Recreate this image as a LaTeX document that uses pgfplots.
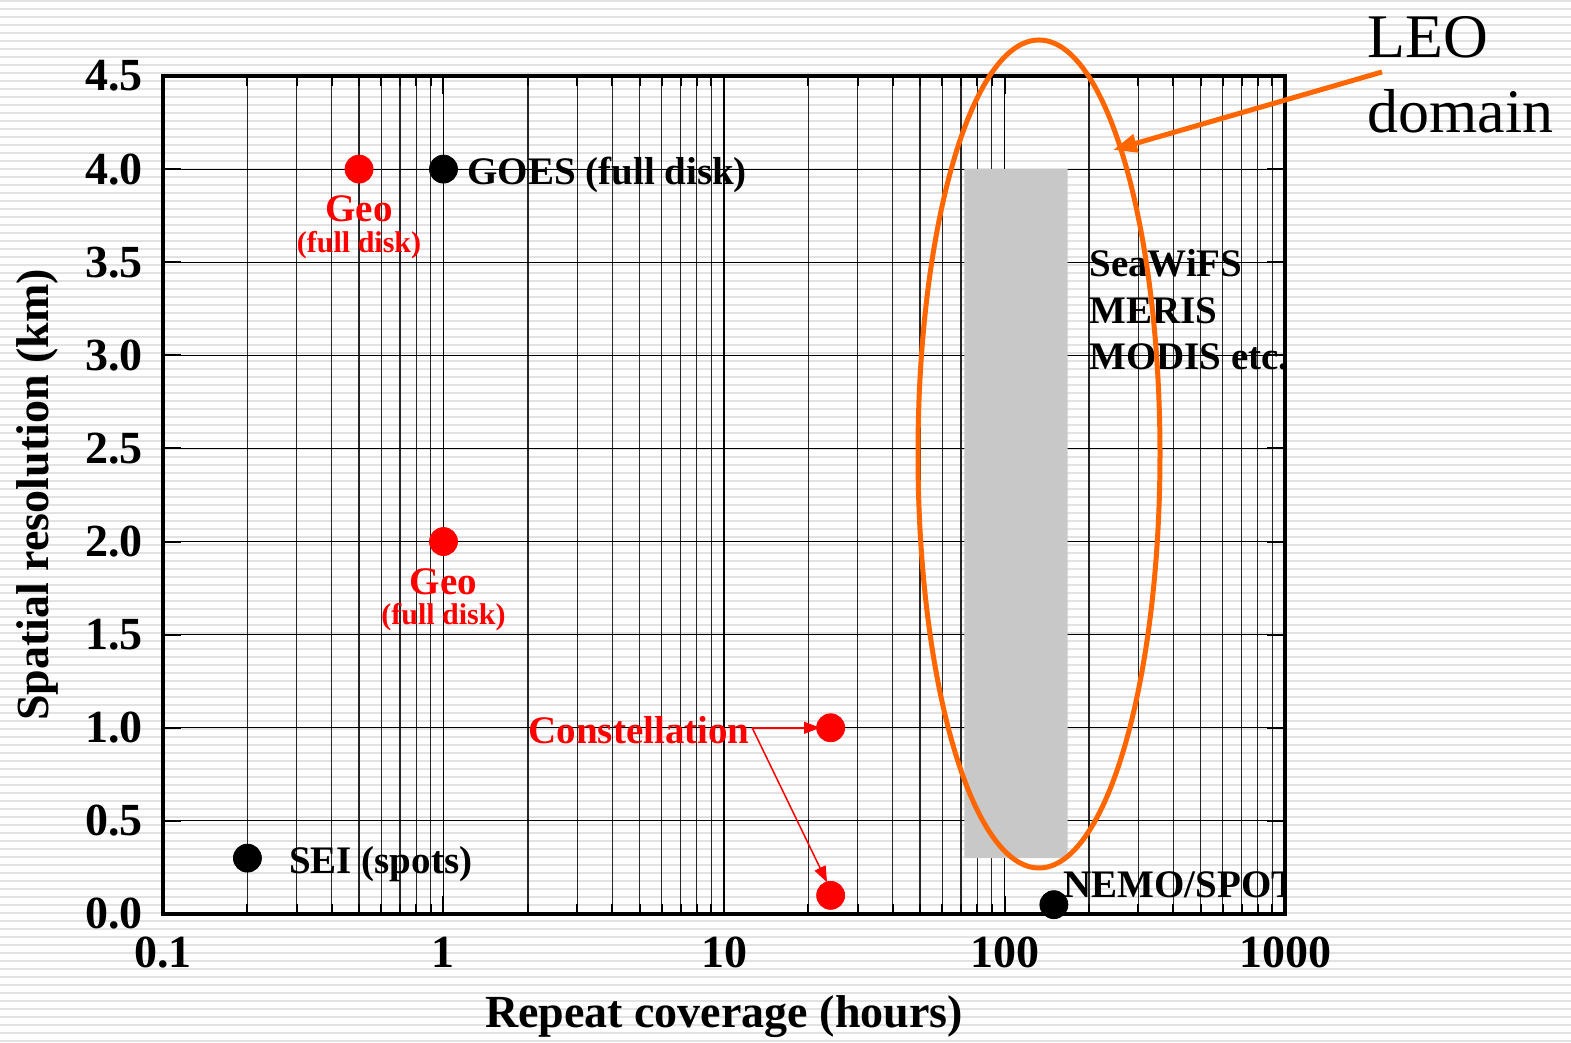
\documentclass[border=0pt]{standalone}
\usepackage{pgfplots}
\pgfplotsset{compat=1.18}
\usepackage{fontspec}
\setmainfont{Liberation Serif}
\usetikzlibrary{arrows.meta}
\definecolor{bargray}{RGB}{200,200,200}
\definecolor{leo}{RGB}{255,102,0}
\definecolor{stripe}{RGB}{226,226,226}
\definecolor{myred}{RGB}{255,0,0}
\newcommand{\tickf}{\fontsize{23}{27}\selectfont\bfseries}
\newcommand{\axlab}{\fontsize{23}{27}\selectfont\bfseries}
\newcommand{\ann}{\fontsize{19.5}{23}\selectfont\bfseries}
\newcommand{\anns}{\fontsize{15}{18}\selectfont\bfseries}
\newcommand{\leof}{\fontsize{31}{36}\selectfont}
\begin{document}
\begin{tikzpicture}[x=0.5pt,y=0.5pt]
\useasboundingbox (0,0) rectangle (1571,1043);
\fill[white] (0,0) rectangle (1571,1043);
\foreach \i in {0,...,130}{\fill[stripe] (0,{1043-8*\i}) rectangle (1571,{1043-8*\i-2.5});}
\begin{axis}[
  at={(81.5pt,64.5pt)}, anchor=south west,
  scale only axis, width=561pt, height=419pt,
  xmode=log, xmin=0.1, xmax=1000, ymin=0, ymax=4.5,
  xtick={0.1,1,10,100,1000}, xticklabels={0.1,1,10,100,1000},
  ytick={0,0.5,1,1.5,2,2.5,3,3.5,4,4.5},
  yticklabels={0.0,0.5,1.0,1.5,2.0,2.5,3.0,3.5,4.0,4.5},
  minor y tick num=0,
  grid=both,
  major grid style={black, line width=0.6pt},
  minor grid style={black!85, line width=0.6pt},
  axis line style={line width=2pt},
  tick align=inside,
  major tick length=9pt, minor tick length=5pt,
  every tick/.style={black, line width=1pt},
  xticklabel style={font=\tickf, anchor=north, inner sep=0pt, yshift=-11.5pt},
  yticklabel style={font=\tickf, anchor=east, inner sep=0pt, xshift=-10pt},
  xlabel={Repeat coverage (hours)}, ylabel={Spatial resolution (km)},
  every axis x label/.style={at={(rel axis cs:0.5,0)}, yshift=-51.5pt, anchor=center, font=\axlab},
  every axis y label/.style={at={(rel axis cs:0,0.5)}, xshift=-63pt, rotate=90, anchor=center, font=\axlab},
  clip=false,
]
\addplot[draw=none, fill=bargray] coordinates {(72,0.3) (168,0.3) (168,4) (72,4) (72,0.3)};
\addplot[only marks, mark=*, mark size=7pt, myred] coordinates {(0.5,4) (1,2) (24,1) (24,0.1)};
\addplot[only marks, mark=*, mark size=7pt, black] coordinates {(1,4) (0.2,0.3) (150,0.05)};
\draw[myred, line width=0.75pt, -{Triangle[length=8pt,width=6pt]}] (axis cs:12.6,1) -- (axis cs:22,1);
\draw[myred, line width=0.75pt, -{Triangle[length=8pt,width=6pt]}] (axis cs:12.6,1) -- (axis cs:23.3,0.17);
\node[myred, font=\ann, inner sep=0pt, anchor=base] at (axis cs:0.5,3.717) {Geo};
\node[myred, font=\anns, inner sep=0pt, anchor=base] at (axis cs:0.5,3.55) {(full disk)};
\node[myred, font=\ann, inner sep=0pt, anchor=base] at (axis cs:1,1.713) {Geo};
\node[myred, font=\anns, inner sep=0pt, anchor=base] at (axis cs:1,1.552) {(full disk)};
\node[font=\ann, inner sep=0pt, anchor=base west] at (axis cs:1.213,3.915) {GOES (full disk)};
\node[myred, font=\ann, inner sep=0pt, anchor=base east] at (axis cs:12.38,0.918) {Constellation};
\node[font=\ann, inner sep=0pt, anchor=base west] at (axis cs:0.281,0.215) {SEI (spots)};
\begin{scope}
\clip (rel axis cs:0,0) rectangle (rel axis cs:1,1);
\node[font=\ann, inner sep=0pt, anchor=base west] at (axis cs:200,3.421) {SeaWiFS};
\node[font=\ann, inner sep=0pt, anchor=base west] at (axis cs:200,3.169) {MERIS};
\node[font=\ann, inner sep=0pt, anchor=base west] at (axis cs:200,2.922) {MODIS etc.};
\node[font=\ann, inner sep=0pt, anchor=base west] at (axis cs:161.7,0.091) {NEMO/SPOT};
\end{scope}
\end{axis}
\draw[leo, line width=2.5pt] (1039,589) ellipse [x radius=60.5pt, y radius=207pt];
\draw[leo, line width=2.5pt, -{Triangle[length=12pt,width=9pt]}] (1382,971) -- (1113,893);
\node[anchor=base west, inner sep=0pt, font=\leof] at (1367,985) {LEO};
\node[anchor=base west, inner sep=0pt, font=\leof] at (1367,910) {domain};
\end{tikzpicture}
\end{document}
